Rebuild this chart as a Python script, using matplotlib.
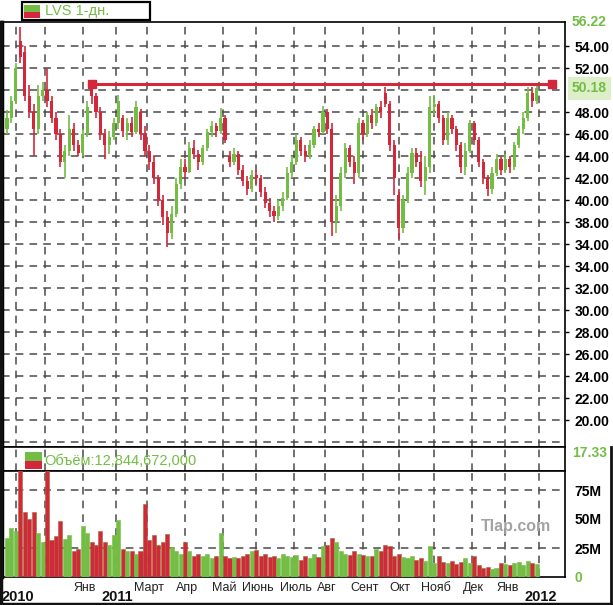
import numpy as np
import matplotlib
matplotlib.use("Agg")
import matplotlib.pyplot as plt
from matplotlib.patches import Rectangle
from matplotlib.transforms import blended_transform_factory

# daily-ish bars LVS
opens = [46.5, 47.5, 49.0, 54.5, 53.5, 49.5, 48.0, 46.5, 49.5, 50.0,
         49.0, 47.5, 46.0, 43.5, 44.5, 46.5, 45.0, 44.3, 46.0, 50.3,
         49.5, 48.0, 46.0, 45.0, 45.8, 47.0, 47.5, 46.3, 47.0, 46.2,
         48.0, 46.0, 44.5, 43.5, 42.0, 40.0, 38.5, 37.0, 38.8, 41.5,
         43.0, 42.6, 44.8, 44.2, 43.5, 44.8, 46.2, 46.8, 46.3, 47.5,
         44.0, 43.5, 44.2, 42.8, 41.8, 41.0, 42.3, 42.0, 40.8, 39.8,
         39.0, 38.6, 39.5, 40.2, 42.5, 43.5, 45.5, 44.5, 44.0, 45.0,
         46.5, 46.2, 48.0, 46.5, 38.0, 39.5, 42.5, 44.8, 43.5, 42.5,
         47.0, 46.0, 47.8, 47.0, 48.5, 49.8, 48.8, 45.0, 40.5, 37.5,
         40.0, 42.5, 44.3, 43.5, 41.8, 43.0, 48.5, 48.8, 47.5, 45.5,
         47.5, 46.5, 45.0, 43.0, 44.5, 47.0, 45.5, 43.5, 42.0, 41.0,
         42.5, 43.8, 42.8, 43.8, 43.0, 45.0, 46.5, 47.5, 49.8, 49.0]
closes = [47.5, 49.0, 52.0, 53.0, 49.5, 48.0, 46.5, 49.5, 50.0, 49.0,
          47.5, 46.0, 43.5, 44.5, 46.5, 45.0, 44.3, 46.0, 48.5, 49.5,
          48.0, 46.0, 45.0, 45.8, 47.0, 49.0, 46.3, 47.0, 46.2, 48.5,
          46.0, 44.5, 43.5, 42.0, 40.0, 38.5, 37.0, 38.8, 41.5, 43.0,
          42.6, 44.8, 44.2, 43.5, 44.8, 46.2, 46.8, 46.3, 47.5, 45.5,
          43.5, 44.2, 42.8, 41.8, 41.0, 42.3, 42.0, 40.8, 39.8, 39.0,
          38.6, 39.5, 40.2, 42.5, 43.5, 45.5, 44.5, 44.0, 45.0, 46.5,
          46.2, 48.0, 46.5, 38.0, 39.5, 42.5, 44.8, 43.5, 42.5, 47.0,
          46.0, 47.8, 47.0, 48.5, 48.0, 48.8, 45.0, 42.0, 37.5, 40.0,
          42.5, 44.3, 43.5, 41.8, 43.0, 48.5, 48.8, 47.5, 45.5, 47.5,
          46.5, 45.0, 43.0, 44.5, 47.0, 45.5, 43.5, 42.0, 41.0, 42.5,
          43.8, 42.8, 43.8, 43.0, 45.0, 46.5, 47.5, 49.8, 49.0, 50.18]
highs = [48.2, 49.5, 52.5, 55.8, 54.0, 50.5, 48.8, 50.5, 50.8, 52.0,
         49.5, 48.0, 46.5, 45.0, 47.8, 47.0, 45.5, 46.5, 49.0, 50.8,
         49.8, 48.5, 46.5, 46.3, 47.5, 49.6, 47.8, 47.5, 47.6, 49.0,
         48.3, 46.8, 45.0, 44.0, 42.3, 40.5, 39.0, 39.5, 42.0, 43.8,
         43.8, 45.3, 45.5, 44.6, 45.0, 46.5, 47.2, 47.0, 48.4, 47.8,
         44.5, 44.8, 44.5, 43.2, 42.2, 42.8, 42.8, 42.3, 41.2, 40.2,
         39.5, 40.0, 40.8, 43.0, 44.0, 46.0, 45.8, 45.0, 45.5, 46.8,
         47.0, 48.6, 48.3, 47.0, 40.5, 43.0, 45.2, 45.0, 44.0, 47.5,
         47.3, 48.0, 48.3, 48.8, 49.0, 50.3, 49.0, 45.5, 41.0, 40.5,
         43.0, 44.8, 44.8, 44.5, 44.0, 49.5, 49.6, 49.0, 47.8, 48.0,
         47.8, 46.8, 45.3, 45.2, 47.3, 47.2, 45.8, 43.8, 42.3, 43.0,
         44.2, 44.0, 44.2, 44.0, 45.3, 46.8, 48.0, 50.3, 50.3, 50.5]
lows = [46.0, 47.0, 48.8, 52.5, 49.0, 47.5, 44.0, 46.0, 49.0, 48.5,
        47.0, 45.5, 43.0, 42.0, 44.0, 44.5, 44.0, 44.0, 45.8, 48.8,
        47.5, 45.5, 43.8, 44.2, 45.5, 46.5, 45.8, 45.5, 45.8, 46.0,
        45.5, 44.0, 42.8, 41.5, 39.5, 37.8, 35.8, 36.5, 38.5, 41.0,
        42.0, 42.5, 43.8, 42.8, 43.2, 44.5, 45.8, 45.8, 46.0, 45.2,
        43.0, 43.2, 42.3, 41.3, 40.5, 40.8, 41.5, 40.3, 39.3, 38.5,
        38.0, 38.2, 39.0, 40.0, 42.0, 43.2, 44.0, 43.5, 43.8, 44.8,
        45.8, 46.0, 46.0, 36.8, 37.0, 39.0, 42.0, 43.0, 41.5, 42.0,
        45.5, 45.8, 46.5, 46.8, 47.5, 48.5, 44.5, 40.5, 36.5, 37.0,
        39.8, 42.0, 43.0, 41.2, 40.5, 42.5, 47.8, 47.0, 45.0, 45.0,
        46.0, 44.5, 42.5, 42.3, 44.3, 45.0, 43.0, 41.5, 40.4, 40.6,
        42.2, 42.3, 42.5, 42.5, 42.8, 44.8, 46.0, 47.2, 48.5, 48.8]
# volume, millions of shares
volumes = [34, 42, 40, 110, 56, 50, 56, 38, 30, 100,
           32, 35, 48, 33, 36, 22, 24, 44, 38, 30,
           28, 40, 30, 28, 36, 49, 24, 22, 22, 20,
           22, 63, 32, 36, 28, 30, 37, 26, 22, 20,
           30, 22, 18, 20, 18, 20, 16, 18, 38, 18,
           16, 17, 16, 18, 20, 22, 23, 18, 20, 17,
           18, 16, 20, 18, 17, 19, 15, 18, 16, 20,
           17, 27, 28, 34, 30, 22, 20, 19, 22, 20,
           19, 18, 18, 24, 22, 28, 27, 18, 20, 17,
           16, 18, 15, 16, 14, 27, 12, 18, 13, 12,
           14, 11, 13, 16, 12, 18, 10, 8, 9, 7,
           8, 12, 11, 10, 12, 13, 10, 14, 12, 11]

# month boundaries (bar index) and their labels
month_pos = [2, 8.5, 17, 24.5, 31.5, 40, 48.5, 56, 64.5, 71.5, 80, 88, 96, 104.5, 112, 119.5]
month_lbl = ["2010", "", "Янв", "2011", "Март", "Апр", "Май", "Июнь", "Июль",
             "Авг", "Сент", "Окт", "Нояб", "Дек", "Янв", "2012"]
year_lbl = ["2010", "2011", "2012"]

price_ticks = [54, 52, 48, 46, 44, 42, 40, 38, 36, 34, 32, 30, 28, 26, 24, 22, 20]
price_tick_lbl = ["54.00", "52.00", "48.00", "46.00", "44.00", "42.00", "40.00", "38.00",
                  "34.00", "34.00", "32.00", "30.00", "28.00", "26.00", "24.00", "22.00", "20.00"]
grid_levels = list(range(18, 56, 2))
vol_ticks = [0, 25, 50, 75]
vol_tick_lbl = ["0", "25M", "50M", "75M"]
vol_grid = [25, 75]

last_price = 50.18
price_top = 56.22
price_bottom = 17.33
resist_level = 50.55
resist_from, resist_to = 19, 122.5

GREEN = "#74bd45"
RED = "#d3283c"
GRID = "#4a4a4a"
NARROW = ["Liberation Sans Narrow", "Liberation Sans", "DejaVu Sans"]
REG = ["Liberation Sans", "DejaVu Sans"]

W, H = 613, 605
fig = plt.figure(figsize=(W / 100, H / 100), dpi=100)
fig.patch.set_facecolor("white")


def px_axes(x0, y0, x1, y1):
    return fig.add_axes([x0 / W, 1 - y1 / H, (x1 - x0) / W, (y1 - y0) / H])


def to_idx(x):
    return (x - 7) / 4.45


ax = px_axes(2, 22, 565, 447)
strip = px_axes(2, 447, 565, 471)
vax = px_axes(2, 471, 565, 577)

n = len(closes)
idx = np.arange(n)
cols = [GREEN if c >= o else RED for o, c in zip(opens, closes)]

xl = (to_idx(2), to_idx(565))
dash = (0, (5, 4))

# price panel
ax.vlines(idx, lows, highs, colors=cols, lw=1.2, zorder=3)
bottoms = np.minimum(opens, closes)
heights = np.maximum(np.abs(np.array(closes) - np.array(opens)), 0.12)
ax.bar(idx, heights, bottom=bottoms, width=0.7, color=cols, zorder=3, linewidth=0)
for g in grid_levels:
    ax.axhline(g, color=GRID, lw=1.1, ls=dash, zorder=1)
for m in month_pos:
    ax.axvline(m, color=GRID, lw=1.1, ls=dash, zorder=1)
ax.set_xlim(*xl)
ax.set_ylim(price_top - (447 - 22) / 11, price_top)
ax.set_xticks([])
ax.yaxis.tick_right()
ax.set_yticks(price_ticks)
ax.set_yticklabels(price_tick_lbl, fontfamily=NARROW, fontweight="bold", fontsize=10)
ax.tick_params(axis="y", length=3, width=1, pad=4)
for s in ax.spines.values():
    s.set_linewidth(1.2)
ax.spines["left"].set_linewidth(2.5)

# resistance line
ax.plot([resist_from, resist_to], [resist_level, resist_level], color=RED, lw=2.2,
        zorder=5, clip_on=False)
ax.plot([resist_from, resist_to], [resist_level, resist_level], ls="none", marker="s",
        ms=6, color=RED, zorder=6, clip_on=False)

yt = blended_transform_factory(ax.transAxes, ax.transData)
ax.text(1.012, last_price, "50.18", transform=yt, color=GREEN, fontfamily=NARROW,
        fontsize=10, fontweight="bold", va="center", ha="left",
        bbox=dict(boxstyle="square,pad=0.3", fc="#dcefc8", ec="none"))
ax.text(1.012, price_top, "56.22", transform=yt, color=GREEN, fontfamily=NARROW,
        fontsize=10, fontweight="bold", va="center", ha="left")

# strip between panels with volume legend
strip.set_xlim(*xl)
strip.set_ylim(0, 1)
strip.set_xticks([])
strip.set_yticks([])
for m in month_pos:
    strip.axvline(m, color=GRID, lw=1.1, ls=dash, zorder=1)
for s in strip.spines.values():
    s.set_linewidth(1.2)
strip.spines["left"].set_linewidth(2.5)
strip.text(1.012, 0.75, "17.33", transform=strip.transAxes, color=GREEN,
           fontfamily=NARROW, fontsize=10, fontweight="bold", va="center", ha="left")

# volume panel
vax.bar(idx, volumes, width=0.9, color=cols, zorder=3,
        edgecolor=["#9a6a2a" if c == RED else GREEN for c in cols], linewidth=0.4)
for g in vol_grid:
    vax.axhline(g, color=GRID, lw=1.1, ls=dash, zorder=1)
for m in month_pos:
    vax.axvline(m, color=GRID, lw=1.1, ls=dash, zorder=1)
vax.set_xlim(*xl)
vax.set_ylim(0, (577 - 471) / 1.16)
vax.set_xticks([])
vax.yaxis.tick_right()
vax.set_yticks(vol_ticks)
vax.set_yticklabels(vol_tick_lbl, fontfamily=NARROW, fontweight="bold", fontsize=10)
vax.get_yticklabels()[0].set_color(GREEN)
vax.tick_params(axis="y", length=0, pad=7)
for s in vax.spines.values():
    s.set_linewidth(1.2)
vax.spines["left"].set_linewidth(2.5)

# x labels
xt = blended_transform_factory(vax.transData, fig.transFigure)
for m, lbl in zip(month_pos, month_lbl):
    if not lbl:
        continue
    if lbl in year_lbl:
        vax.text(m + 0.4, 1 - 597 / H, lbl, transform=xt, ha="center", va="center",
                 fontfamily=NARROW, fontweight="bold", fontsize=10.5, color="#111")
    else:
        vax.text(m + 0.4, 1 - 588 / H, lbl, transform=xt, ha="center", va="center",
                 fontfamily=REG, fontsize=9, color="#222")

# overlay for legend boxes, watermark, outer frame
ov = fig.add_axes([0, 0, 1, 1], zorder=10)
ov.set_xlim(0, W)
ov.set_ylim(H, 0)
ov.axis("off")
ov.patch.set_visible(False)

ov.add_patch(Rectangle((22, 2), 128, 18, fc="white", ec="black", lw=1.6))
ov.add_patch(Rectangle((24, 5), 16, 6.5, fc=GREEN, ec="none"))
ov.add_patch(Rectangle((24, 11.5), 16, 6.5, fc=RED, ec="none"))
ov.text(45, 11.5, "LVS 1-дн.", color=GREEN, fontfamily=REG, fontsize=10.5,
        va="center", ha="left")

ov.add_patch(Rectangle((25, 452), 17, 8.5, fc=GREEN, ec="none"))
ov.add_patch(Rectangle((25, 460.5), 17, 8.5, fc=RED, ec="none"))
ov.text(44, 461, "Объём:12,844,672,000", color=GREEN, fontfamily=NARROW, fontsize=10.5,
        va="center", ha="left")

ov.text(516, 527, "Tlap.com", color="#a3a3a3", fontfamily=REG, fontsize=11.5,
        fontweight="bold", ha="center", va="center")

ov.plot([1, 1], [22, 605], color="#111", lw=2.5)
ov.plot([0, 611], [603.5, 603.5], color="#111", lw=2.5)
ov.plot([610.5, 610.5], [447, 605], color="#111", lw=2)

fig.savefig("out.png", dpi=100)
